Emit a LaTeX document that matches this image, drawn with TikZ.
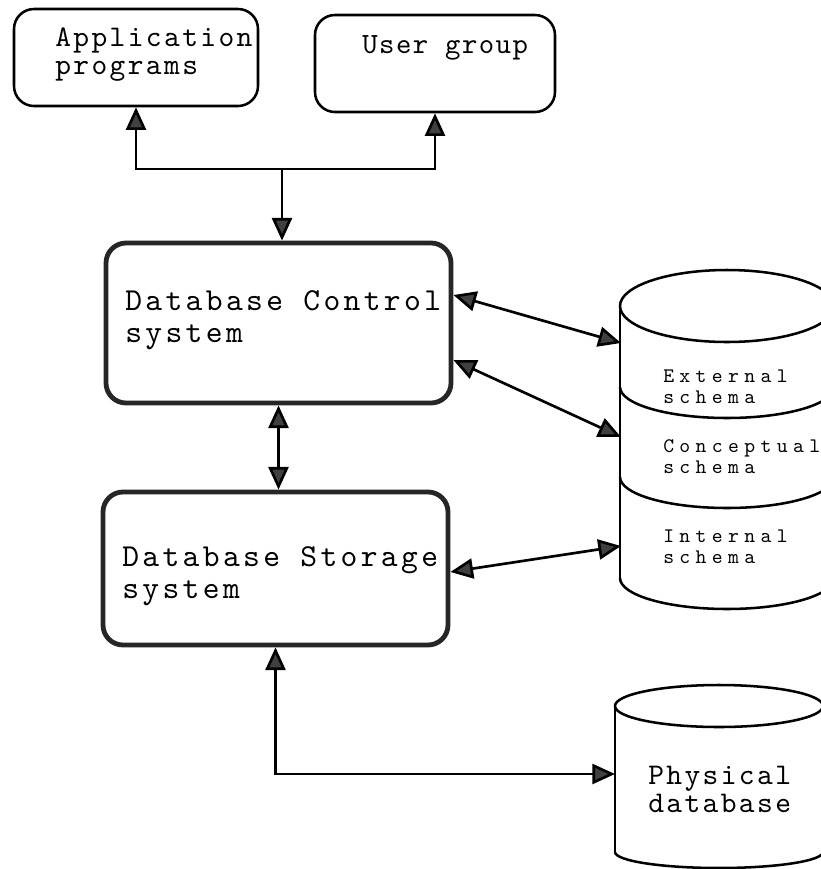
\documentclass[tikz,border=0pt]{standalone}
\usepackage{fontspec}
\usetikzlibrary{arrows.meta}
% typewriter face with widened letter spacing, one per spacing
\newfontfamily\monoA[LetterSpace=8]{lmmono10-regular.otf}
\newfontfamily\monoB[LetterSpace=5]{lmmono10-regular.otf}
\newfontfamily\monoC[LetterSpace=10.5]{lmmono10-regular.otf}
\newfontfamily\monoD[LetterSpace=26]{lmmono10-regular.otf}
\begin{document}
\begin{tikzpicture}[x=0.75pt,y=-0.75pt,
  >={Triangle[length=17pt,width=15pt,fill=black!75]},
  link/.style={line width=2pt,black},
  thinbox/.style={draw,line width=1.9pt,rounded corners=15pt,inner sep=0pt},
  thickbox/.style={draw=black!85,line width=3.6pt,rounded corners=15pt,inner sep=0pt},
  lbl/.style={anchor=base west,inner sep=0pt,align=left},
  drum/.style={line width=1.9pt,black},
]
\path[use as bounding box] (0,0) rectangle (821,869);

% boxes
\node[thinbox,minimum width=183pt,minimum height=72.75pt] (app) at (136,57.5) {};
\node[thinbox,minimum width=180pt,minimum height=72.75pt] (ug) at (435,63.5) {};
\node[thickbox,minimum width=258.75pt,minimum height=120pt] (dcs) at (278.5,323) {};
\node[thickbox,minimum width=258.75pt,minimum height=114.75pt] (dss) at (275.5,568.5) {};

% box labels
\node[lbl,font=\monoA\fontsize{22.5}{21}\selectfont] (tapp) at (55,74) {Application\\programs};
\node[lbl,font=\monoB\fontsize{22}{18}\selectfont] (tug) at (362,53) {User group};
\node[lbl,font=\monoC\fontsize{24}{24}\selectfont] (tdcs) at (125,342) {Database Control\\system};
\node[lbl,font=\monoC\fontsize{24}{23.5}\selectfont] (tdss) at (122,598) {Database Storage\\system};

% schema drum
\draw[drum] (727,306) ellipse [x radius=80.25pt,y radius=27pt];
\draw[drum] (620,306) -- (620,578);
\draw[drum] (834,306) -- (834,578);
\draw[drum] (620,387) arc[start angle=180,end angle=360,x radius=80.25pt,y radius=23.25pt];
\draw[drum] (620,477) arc[start angle=180,end angle=360,x radius=80.25pt,y radius=23.25pt];
\draw[drum] (620,578) arc[start angle=180,end angle=360,x radius=80.25pt,y radius=23.25pt];
\coordinate (ext) at (621,343);
\coordinate (con) at (621,437);
\coordinate (int) at (621,546);

\begin{scope}[font=\monoD\fontsize{15.5}{15.75}\selectfont]
\node[lbl] (text) at (663,403) {External\\schema};
\node[lbl] (tcon) at (663,473) {Conceptual\\schema};
\node[lbl] (tint) at (663,563) {Internal\\schema};
\end{scope}

% physical database drum
\draw[drum] (719,706) ellipse [x radius=78pt,y radius=15.75pt];
\draw[drum] (615,706) -- (615,852);
\draw[drum] (823,706) -- (823,852);
\draw[drum] (615,852) arc[start angle=180,end angle=360,x radius=78pt,y radius=12pt];
\coordinate (phys) at (615,774);
\node[lbl,font=\monoA\fontsize{22.5}{21}\selectfont] (tphys) at (648,812) {Physical\\database};

% connectors
\coordinate (jtop) at (282,169);
\draw[link,<->] (app.south) |- (jtop) -| (ug.south);
\draw[link,->] (jtop) -- (jtop |- dcs.north);
\draw[link,<->] (dcs.south) -- (dcs.south |- dss.north);
\draw[link,<->] ([yshift=21pt]dcs.east) -- (ext);
\draw[link,<->] ([yshift=-27.75pt]dcs.east) -- (con);
\draw[link,<->] ([yshift=-2.6pt]dss.east) -- (int);
\draw[link,<->] (dss.south) |- (phys);
\end{tikzpicture}
\end{document}
